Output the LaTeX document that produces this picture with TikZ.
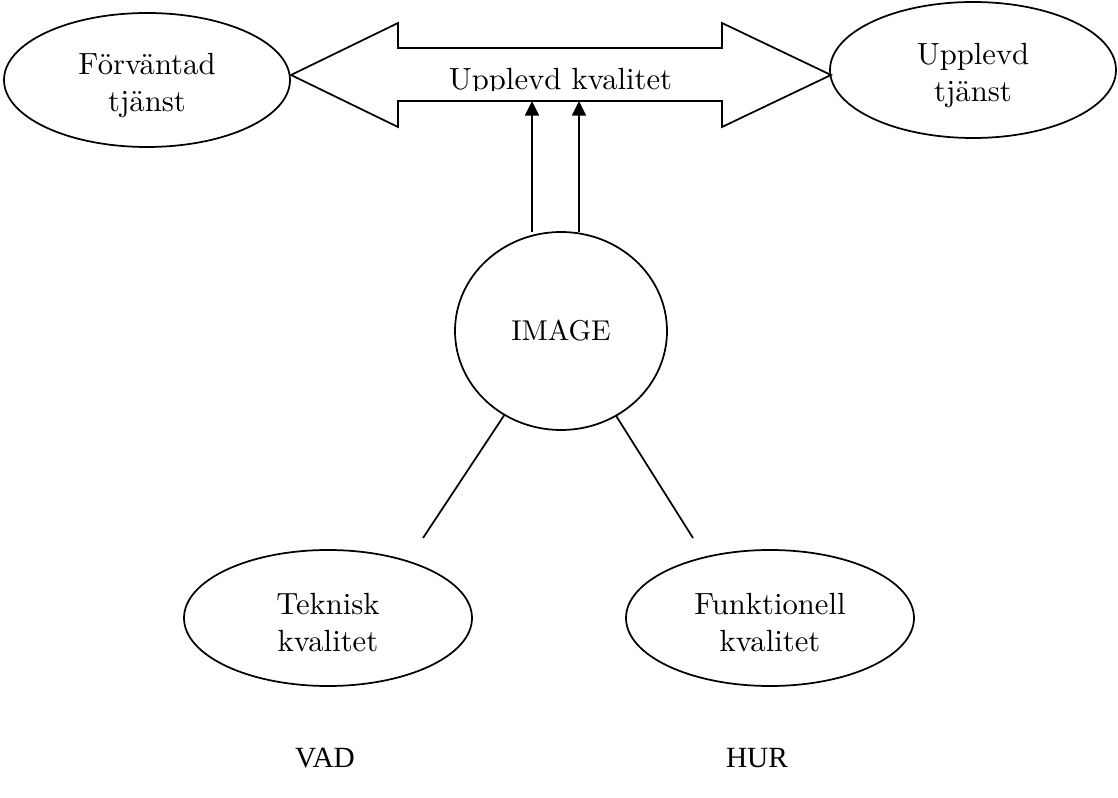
\documentclass[tikz,border=0pt]{standalone}
\usepackage{fontspec}
\setmainfont{lmroman10-regular.otf}
\newfontfamily\tnr{Liberation Serif}
\usetikzlibrary{shapes.geometric,arrows.meta}
\newcommand\tstr{\rule{0pt}{23.5pt}}
\tikzset{
  x=0.75pt, y=-0.75pt,
  lw/.style={line width=1.3pt},
  oval/.style={ellipse, draw, lw, inner sep=0pt, outer sep=0pt,
    minimum width=288*0.75pt, minimum height=136*0.75pt,
    align=center, font=\fontsize{23}{27.75}\selectfont},
  conn/.style={lw},
  uparrow/.style={lw, -{Triangle[length=11pt,width=10.5pt]}},
  lbl/.style={font=\fontsize{23}{27.75}\selectfont, inner sep=0pt},
  bottomlbl/.style={font=\tnr\fontsize{22}{26}\selectfont, inner sep=0pt, anchor=base}
}
\begin{document}
\begin{tikzpicture}
\useasboundingbox (0,0) rectangle (1118,798);
% ellipses
\node[oval, minimum width=286*0.75pt, minimum height=134*0.75pt] (forv) at (147,80) {\tstr Förväntad\\tjänst};
\node[oval, minimum width=286*0.75pt] (upp) at (973,70) {\tstr Upplevd\\tjänst};
\node[oval] (tek) at (328,618) {\tstr Teknisk\\kvalitet};
\node[oval] (fun) at (770,618) {\tstr Funktionell\\kvalitet};
\node[oval, minimum width=212*0.75pt, minimum height=198*0.75pt, font=\fontsize{21.5}{26}\selectfont] (img) at (561,331) {IMAGE};
% double arrow
\coordinate (tipL) at (291,75);
\coordinate (tipR) at (831,75);
\coordinate (shaftB) at (561,101);
\draw[lw, line join=miter] (tipL) -- (398,23) -- (398,48) -- (722,48) -- (722,23) -- (tipR)
  -- (722,127) -- (722,101) -- (398,101) -- (398,127) -- cycle;
\begin{scope}
  \clip (430,55) rectangle (700,90.5);
  \node[lbl, anchor=base] (uk) at (560.5,89.5) {Upplevd kvalitet};
\end{scope}
% vertical arrows
\draw[uparrow] ([xshift=-29*0.75pt]img.north) -- ([xshift=-29*0.75pt]img.north |- shaftB);
\draw[uparrow] ([xshift=18*0.75pt]img.north) -- ([xshift=18*0.75pt]img.north |- shaftB);
% lines to lower ellipses
\coordinate (endL) at (423,538);
\coordinate (endR) at (693,538);
\draw[conn] (img.236.3) -- (endL);
\draw[conn] (img.303.7) -- (endR);
% bottom labels
\node[bottomlbl] (vad) at (325,767) {VAD};
\node[bottomlbl] (hur) at (757,767) {HUR};
\end{tikzpicture}
\end{document}
